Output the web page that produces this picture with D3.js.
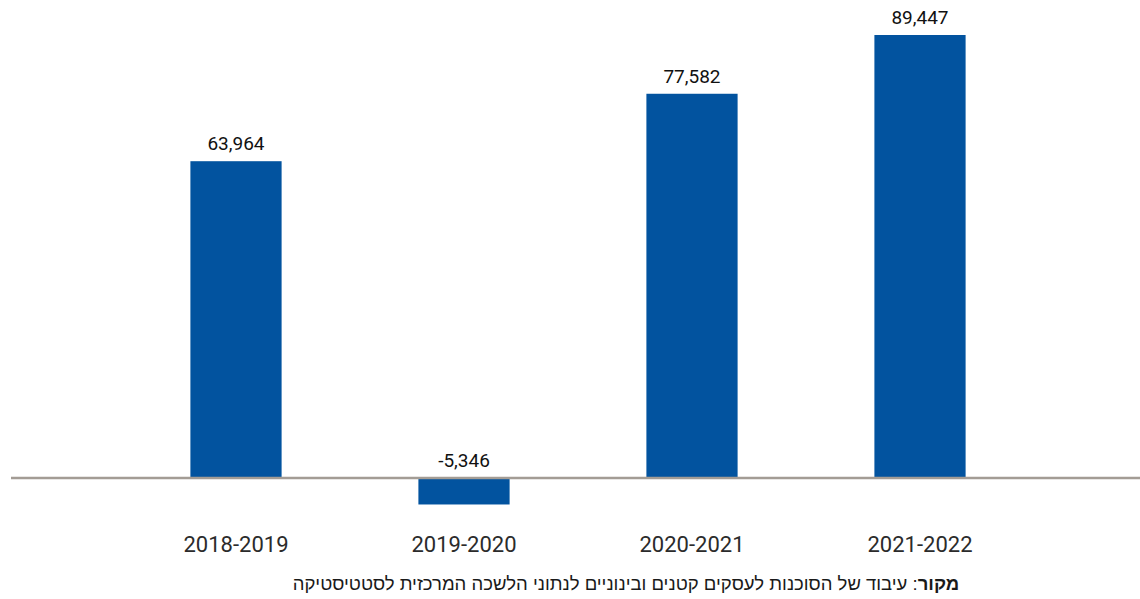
<!DOCTYPE html>
<html>
<head>
<meta charset="utf-8">
<script src="https://cdn.jsdelivr.net/npm/d3@7"></script>
<style>
  html, body { margin: 0; padding: 0; background: #ffffff; }
  svg { display: block; }
</style>
</head>
<body>
<svg id="chart" width="1140" height="599"></svg>
<script>
const categories = ["2018-2019", "2019-2020", "2020-2021", "2021-2022"];
const values = [63964, -5346, 77582, 89447];
const sourceBold = "מקור";
const sourceText = ": עיבוד של הסוכנות לעסקים קטנים ובינוניים לנתוני הלשכה המרכזית לסטטיסטיקה";

const svg = d3.select("#chart");
const x = d3.scaleBand().domain(categories).range([122, 1034]).paddingInner(0.6).paddingOuter(0.3);
const y = d3.scaleLinear().domain([0, d3.max(values)]).range([478, 35]);
const fmt = d3.format(",");

const data = categories.map((c, i) => ({ c, v: values[i] }));

svg.append("g").selectAll("rect").data(data).join("rect")
  .attr("x", d => x(d.c))
  .attr("width", x.bandwidth())
  .attr("y", d => y(Math.max(0, d.v)))
  .attr("height", d => Math.abs(y(d.v) - y(0)))
  .attr("fill", "#02539f");

// zero line
svg.append("line")
  .attr("x1", 11).attr("x2", 1140)
  .attr("y1", y(0)).attr("y2", y(0))
  .attr("stroke", "#a39c95").attr("stroke-width", 2.5);

// value labels
svg.append("g").selectAll("text").data(data).join("text")
  .attr("x", d => x(d.c) + x.bandwidth() / 2)
  .attr("y", d => d.v >= 0 ? y(d.v) - 11 : y(0) - 11)
  .attr("text-anchor", "middle")
  .attr("font-family", "Roboto, 'Liberation Sans', sans-serif")
  .attr("font-size", 19)
  .attr("fill", "#111")
  .text(d => fmt(d.v).replace("−", "-"));

// category axis labels
const xAxis = d3.axisBottom(x).tickSize(0).tickPadding(0);
const gx = svg.append("g").attr("transform", "translate(0,536)").call(xAxis);
gx.select(".domain").remove();
gx.selectAll("text")
  .attr("dy", "0.71em")
  .attr("font-family", "Roboto, 'Liberation Sans', sans-serif")
  .attr("font-size", 22)
  .attr("fill", "#2b2b2b");

// source
const src = svg.append("text")
  .attr("x", 626).attr("y", 590)
  .attr("text-anchor", "middle")
  .attr("direction", "rtl")
  .attr("font-family", "'Liberation Sans', Arial, sans-serif")
  .attr("font-size", 18.5)
  .attr("fill", "#1a1a1a");
src.append("tspan").attr("font-weight", "bold").text(sourceBold);
src.append("tspan").text(sourceText);
</script>
</body>
</html>
